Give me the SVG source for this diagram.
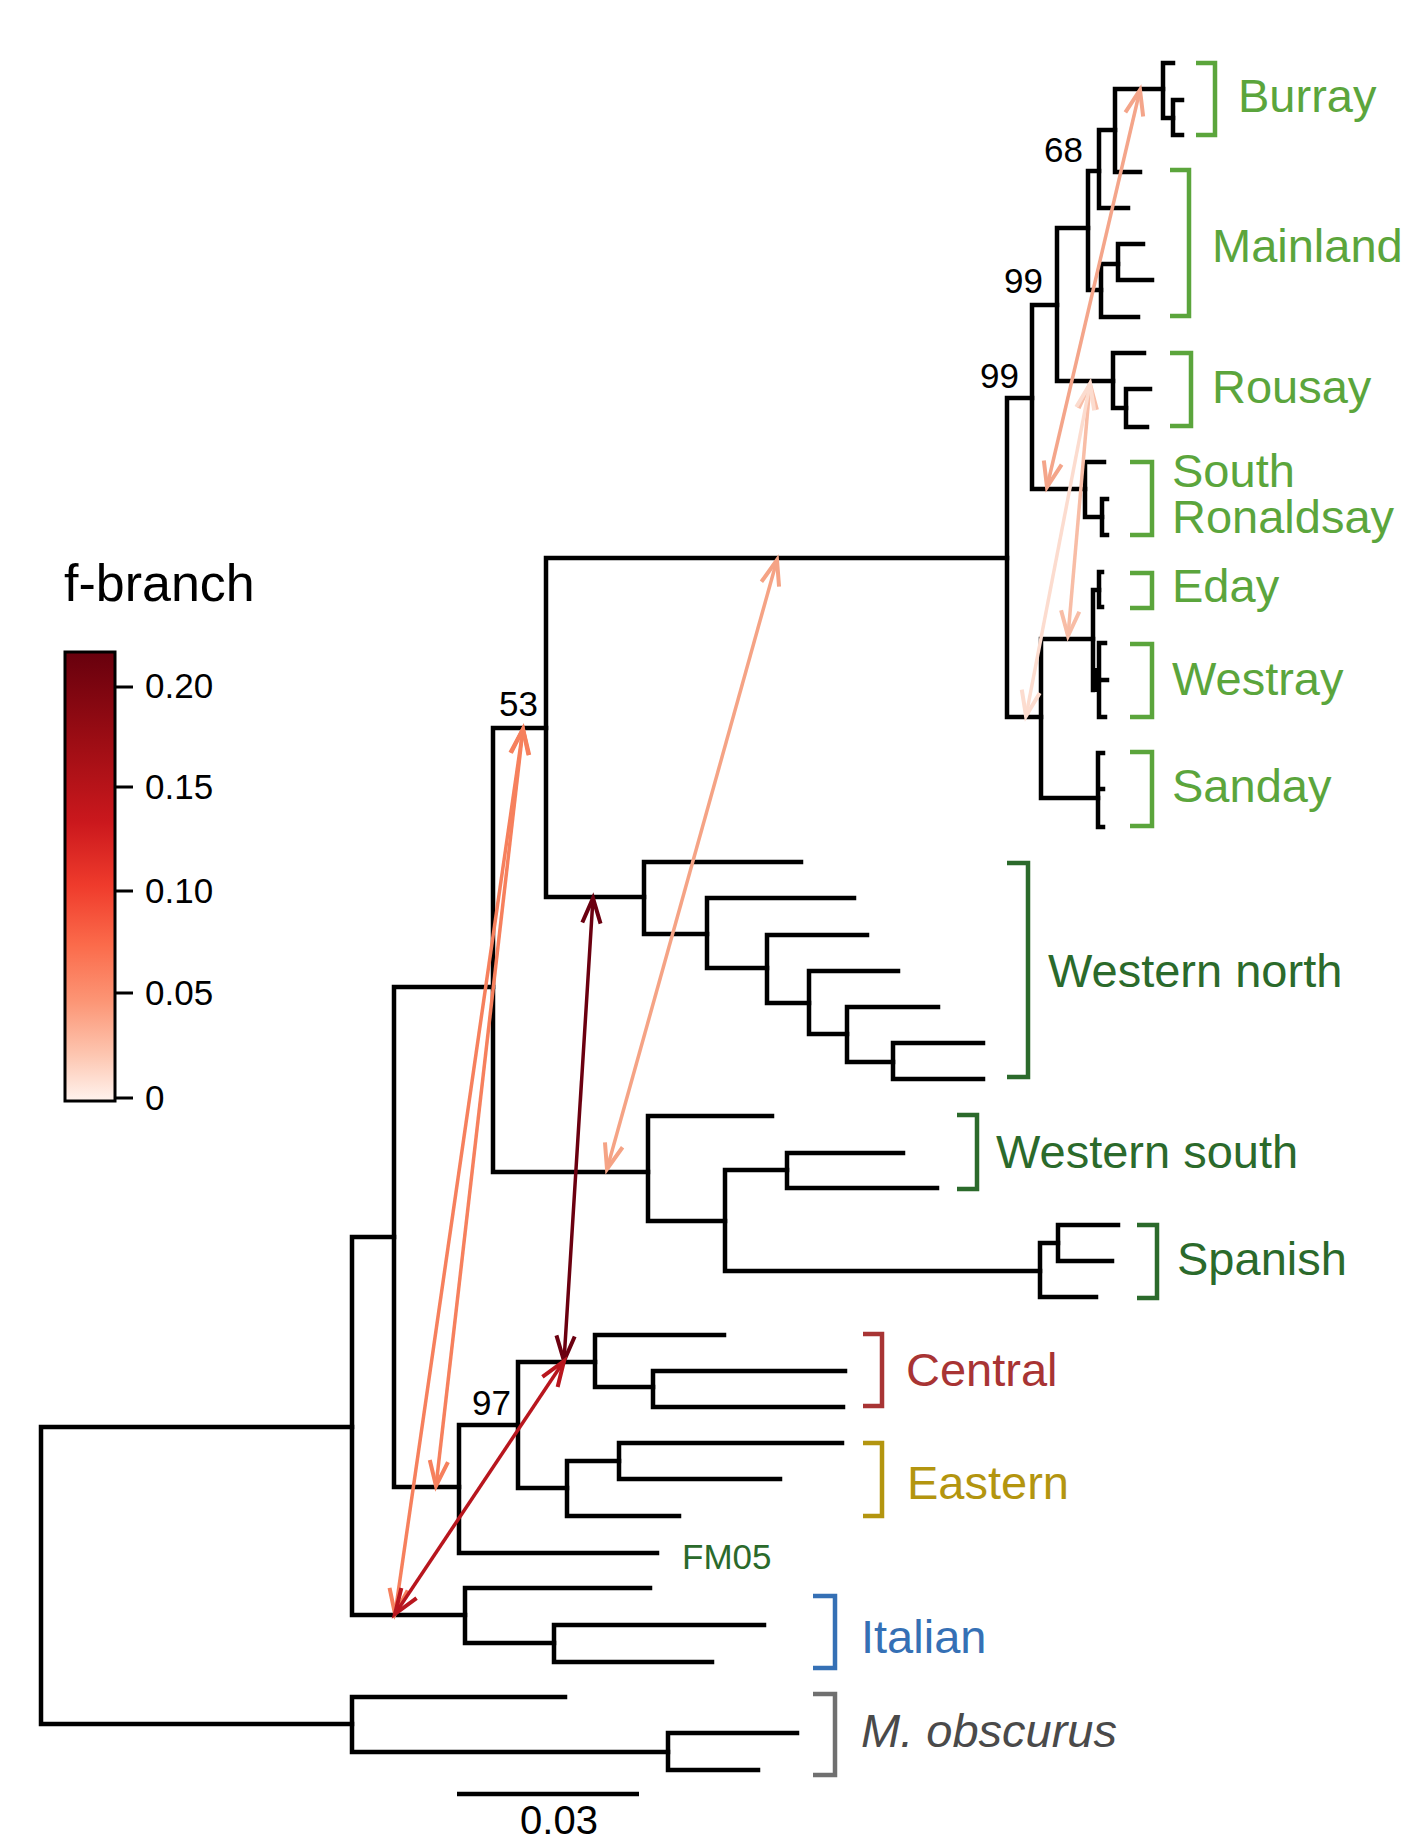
<svg xmlns="http://www.w3.org/2000/svg" width="1407" height="1842" viewBox="0 0 1407 1842">
<style>
.br{fill:none;stroke:#000;stroke-width:4.5;stroke-linecap:square}
.bk{fill:none;stroke-width:4.5;stroke-linecap:butt}
.lab{font-family:"Liberation Sans",Arial,Helvetica,sans-serif;font-size:47px}
.bs{font-family:"Liberation Sans",Arial,Helvetica,sans-serif;font-size:35px;fill:#000;text-anchor:end}
.lg{font-family:"Liberation Sans",Arial,Helvetica,sans-serif;font-size:35px;fill:#000}
.ar{fill:none;stroke-width:3.5}
.lgreen{fill:#5ba53c}.lgreenS{stroke:#5ba53c}
.dgreen{fill:#2b6a2b}.dgreenS{stroke:#2b6a2b}
</style>
<defs>
<linearGradient id="fgrad" x1="0" y1="0" x2="0" y2="1">
<stop offset="0" stop-color="#67000d"/>
<stop offset="0.2" stop-color="#9d0d14"/>
<stop offset="0.38" stop-color="#cb181d"/>
<stop offset="0.52" stop-color="#ef3b2c"/>
<stop offset="0.65" stop-color="#fb6a4a"/>
<stop offset="0.78" stop-color="#fc9676"/>
<stop offset="0.9" stop-color="#fdc7b2"/>
<stop offset="1" stop-color="#fff3ee"/>
</linearGradient>
<marker id="m1" markerUnits="userSpaceOnUse" markerWidth="40" markerHeight="40" viewBox="-30 -15 35 30" refX="0" refY="0" orient="auto-start-reverse"><path d="M-22,-8 L0,0 L-22,8" fill="none" stroke="#f4a58a" stroke-width="3.5"/></marker>
<marker id="m2" markerUnits="userSpaceOnUse" markerWidth="40" markerHeight="40" viewBox="-30 -15 35 30" refX="0" refY="0" orient="auto-start-reverse"><path d="M-22,-8 L0,0 L-22,8" fill="none" stroke="#f8bda6" stroke-width="3.5"/></marker>
<marker id="m3" markerUnits="userSpaceOnUse" markerWidth="40" markerHeight="40" viewBox="-30 -15 35 30" refX="0" refY="0" orient="auto-start-reverse"><path d="M-22,-8 L0,0 L-22,8" fill="none" stroke="#fcdccf" stroke-width="3.5"/></marker>
<marker id="m4" markerUnits="userSpaceOnUse" markerWidth="40" markerHeight="40" viewBox="-30 -15 35 30" refX="0" refY="0" orient="auto-start-reverse"><path d="M-22,-8 L0,0 L-22,8" fill="none" stroke="#f6805d" stroke-width="3.5"/></marker>
<marker id="m5" markerUnits="userSpaceOnUse" markerWidth="40" markerHeight="40" viewBox="-30 -15 35 30" refX="0" refY="0" orient="auto-start-reverse"><path d="M-22,-8 L0,0 L-22,8" fill="none" stroke="#f5a385" stroke-width="3.5"/></marker>
<marker id="m6" markerUnits="userSpaceOnUse" markerWidth="40" markerHeight="40" viewBox="-30 -15 35 30" refX="0" refY="0" orient="auto-start-reverse"><path d="M-22,-8 L0,0 L-22,8" fill="none" stroke="#6b0010" stroke-width="3.5"/></marker>
<marker id="m7" markerUnits="userSpaceOnUse" markerWidth="40" markerHeight="40" viewBox="-30 -15 35 30" refX="0" refY="0" orient="auto-start-reverse"><path d="M-22,-8 L0,0 L-22,8" fill="none" stroke="#b8161e" stroke-width="3.5"/></marker>
</defs>
<rect width="1407" height="1842" fill="#fff"/>

<!-- legend -->
<g id="legend">
<text x="64" y="601" font-family="'Liberation Sans',Arial,sans-serif" font-size="52" fill="#000">f-branch</text>
<rect x="65" y="652" width="50" height="449" fill="url(#fgrad)" stroke="#000" stroke-width="3"/>
<path d="M115 687H133M115 787H133M115 891H133M115 993H133M115 1098H133" stroke="#000" stroke-width="3"/>
<text class="lg" x="145" y="698">0.20</text>
<text class="lg" x="145" y="799">0.15</text>
<text class="lg" x="145" y="903">0.10</text>
<text class="lg" x="145" y="1005">0.05</text>
<text class="lg" x="145" y="1110">0</text>
</g>

<!-- tree -->
<g id="tree" class="br">
<path d="M41 1427V1724M41 1427H352M41 1724H352"/>
<path d="M352 1237V1615M352 1237H394M352 1615H465"/>
<path d="M394 987V1487M394 987H493M394 1487H459"/>
<path d="M493 728V1172M493 728H546M493 1172H648"/>
<path d="M546 558V897M546 558H1007M546 897H644"/>
<!-- western north -->
<path d="M644 862V934M644 862H801M644 934H707"/>
<path d="M707 898V968M707 898H854M707 968H767"/>
<path d="M767 935V1003M767 935H867M767 1003H809"/>
<path d="M809 971V1034M809 971H898M809 1034H847"/>
<path d="M847 1007V1062M847 1007H938M847 1062H893"/>
<path d="M893 1043V1079M893 1043H983M893 1079H983"/>
<!-- western south + spanish -->
<path d="M648 1116V1221M648 1116H772M648 1221H725"/>
<path d="M725 1170V1271M725 1170H787M725 1271H1040"/>
<path d="M787 1153V1188M787 1153H903M787 1188H937"/>
<path d="M1040 1243V1297M1040 1243H1058M1040 1297H1096"/>
<path d="M1058 1225V1261M1058 1225H1118M1058 1261H1112"/>
<!-- 97 clade -->
<path d="M459 1425V1553M459 1425H518M459 1553H657"/>
<path d="M518 1362V1488M518 1362H595M518 1488H567"/>
<path d="M595 1335V1387M595 1335H724M595 1387H653"/>
<path d="M653 1371V1407M653 1371H845M653 1407H843"/>
<path d="M567 1461V1516M567 1461H619M567 1516H679"/>
<path d="M619 1443V1479M619 1443H842M619 1479H780"/>
<!-- italian -->
<path d="M465 1588V1643M465 1588H650M465 1643H554"/>
<path d="M554 1625V1662M554 1625H764M554 1662H712"/>
<!-- outgroup -->
<path d="M352 1697V1752M352 1697H565M352 1752H668"/>
<path d="M668 1733V1770M668 1733H797M668 1770H758"/>
<!-- orkney -->
<path d="M1007 398V717M1007 398H1032M1007 717H1041"/>
<path d="M1032 305V489M1032 305H1057M1032 489H1085"/>
<path d="M1057 228V381M1057 228H1088M1057 381H1113"/>
<path d="M1088 171V290M1088 171H1099M1088 290H1101"/>
<path d="M1099 130V208M1099 130H1115M1099 208H1128"/>
<path d="M1115 89V172M1115 89H1163M1115 172H1140"/>
<path d="M1163 63V118M1163 63H1173M1163 118H1173"/>
<path d="M1173 100V135M1173 100H1182M1173 135H1182"/>
<path d="M1101 264V317M1101 264H1118M1101 317H1138"/>
<path d="M1118 244V280M1118 244H1143M1118 280H1152"/>
<path d="M1113 353V408M1113 353H1144M1113 408H1126"/>
<path d="M1126 389V427M1126 389H1150M1126 427H1147"/>
<path d="M1085 462V517M1085 462H1104M1085 517H1102"/>
<path d="M1102 499V535M1102 499H1107M1102 535H1107"/>
<path d="M1041 639V798M1041 639H1093M1041 798H1098"/>
<path d="M1093 590V690M1093 590H1099M1093 680H1099"/>
<path d="M1099 572V607M1099 572H1102M1099 607H1102"/>
<path d="M1099 643V717M1099 643H1105M1099 680H1107M1099 717H1105"/>
<path d="M1098 753V827M1098 753H1103M1098 789H1103M1098 827H1103"/>
<rect x="1092" y="668" width="9" height="24" fill="#000" stroke="none"/>
</g>

<!-- bootstrap values -->
<g id="support">
<text class="bs" x="1083" y="162">68</text>
<text class="bs" x="1043" y="293">99</text>
<text class="bs" x="1019" y="388">99</text>
<text class="bs" x="538" y="716">53</text>
<text class="bs" x="511" y="1415">97</text>
</g>

<!-- clades -->
<g id="burray"><path class="bk lgreenS" d="M1196 63H1215V135H1196"/><text class="lab lgreen" x="1238" y="112">Burray</text></g>
<g id="mainland"><path class="bk lgreenS" d="M1170 170H1189V316H1170"/><text class="lab lgreen" x="1212" y="262">Mainland</text></g>
<g id="rousay"><path class="bk lgreenS" d="M1170 353H1191V426H1170"/><text class="lab lgreen" x="1212" y="403">Rousay</text></g>
<g id="south-ronaldsay"><path class="bk lgreenS" d="M1130 462H1152V535H1130"/><text class="lab lgreen" x="1172" y="487">South</text><text class="lab lgreen" x="1172" y="533">Ronaldsay</text></g>
<g id="eday"><path class="bk lgreenS" d="M1130 573H1152V608H1130"/><text class="lab lgreen" x="1172" y="602">Eday</text></g>
<g id="westray"><path class="bk lgreenS" d="M1130 644H1152V717H1130"/><text class="lab lgreen" x="1172" y="695">Westray</text></g>
<g id="sanday"><path class="bk lgreenS" d="M1130 752H1152V826H1130"/><text class="lab lgreen" x="1172" y="802">Sanday</text></g>
<g id="western-north"><path class="bk dgreenS" d="M1007 863H1028V1077H1007"/><text class="lab dgreen" x="1048" y="987">Western north</text></g>
<g id="western-south"><path class="bk dgreenS" d="M957 1115H977V1189H957"/><text class="lab dgreen" x="996" y="1168">Western south</text></g>
<g id="spanish"><path class="bk dgreenS" d="M1137 1225H1157V1298H1137"/><text class="lab dgreen" x="1177" y="1275">Spanish</text></g>
<g id="central"><path class="bk" stroke="#a83434" d="M863 1334H882V1406H863"/><text class="lab" fill="#a83434" x="906" y="1386">Central</text></g>
<g id="eastern"><path class="bk" stroke="#b3950f" d="M863 1443H882V1516H863"/><text class="lab" fill="#b3950f" x="907" y="1499">Eastern</text></g>
<g id="fm05"><text font-family="'Liberation Sans',Arial,sans-serif" font-size="35" fill="#2b6a2b" x="682" y="1569">FM05</text></g>
<g id="italian"><path class="bk" stroke="#3570b5" d="M813 1596H835V1668H813"/><text class="lab" fill="#3570b5" x="861" y="1653">Italian</text></g>
<g id="m-obscurus"><path class="bk" stroke="#707070" d="M813 1694H835V1775H813"/><text class="lab" fill="#4a4a4a" font-style="italic" x="861" y="1747">M. obscurus</text></g>

<!-- scale bar -->
<g id="scalebar">
<path d="M457 1794H639" stroke="#000" stroke-width="4.5"/>
<text x="559" y="1834" text-anchor="middle" font-family="'Liberation Sans',Arial,sans-serif" font-size="40" fill="#000">0.03</text>
</g>

<!-- f-branch connectors -->
<g id="connectors" class="ar">
<path d="M1140 90L1047 487" stroke="#f4a58a" marker-start="url(#m1)" marker-end="url(#m1)"/>
<path d="M1090 384L1068 636" stroke="#f8bda6" marker-start="url(#m2)" marker-end="url(#m2)"/>
<path d="M1090 384L1026 716" stroke="#fcdccf" marker-start="url(#m3)" marker-end="url(#m3)"/>
<path d="M777 560L607 1169" stroke="#f5a385" marker-start="url(#m5)" marker-end="url(#m5)"/>
<path d="M523 729L436 1486" stroke="#f6805d" marker-start="url(#m4)" marker-end="url(#m4)"/>
<path d="M523 729L395 1614" stroke="#f6805d" marker-start="url(#m4)" marker-end="url(#m4)"/>
<path d="M593 898L564 1361" stroke="#6b0010" marker-start="url(#m6)" marker-end="url(#m6)"/>
<path d="M564 1361L395 1614" stroke="#b8161e" marker-start="url(#m7)" marker-end="url(#m7)"/>
</g>
</svg>
